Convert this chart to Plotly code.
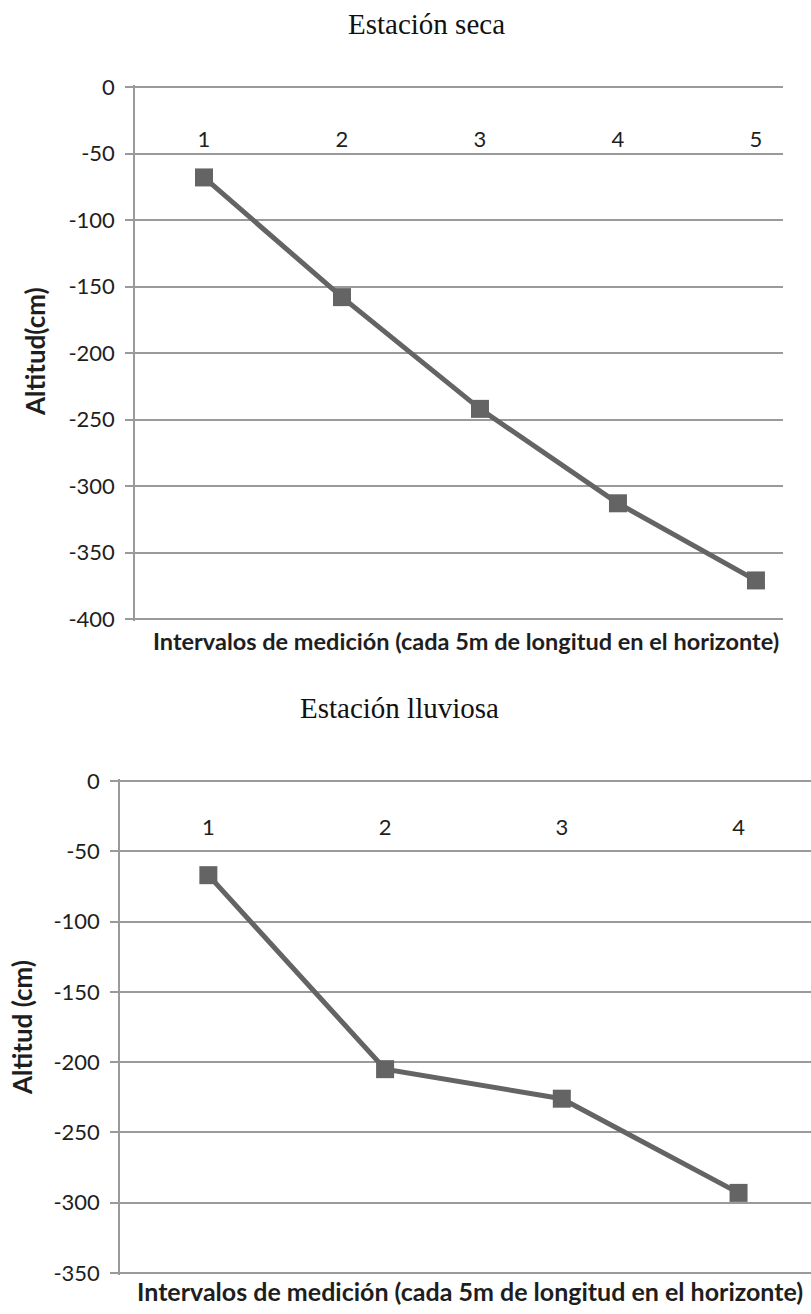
import plotly.graph_objects as go

# Measurement intervals (every 5 m along the horizon) and altitude readings in cm
dry_intervals = [1, 2, 3, 4, 5]
dry_altitude = [-68, -158, -242, -313, -371]

wet_intervals = [1, 2, 3, 4]
wet_altitude = [-67, -205, -226, -293]

dry_title = "Estación seca"
wet_title = "Estación lluviosa"
dry_ytitle = "Altitud(cm)"
wet_ytitle = "Altitud (cm)"
xtitle = "Intervalos de medición (cada 5m de longitud en el horizonte)"

dry_yticks = list(range(0, -401, -50))
wet_yticks = list(range(0, -351, -50))

W, H = 811, 1314
LINE = "#646464"
GRID = "#9a9a9a"
TEXT = "#1e1e1e"
SANS = "Lato, Open Sans, sans-serif"
TICKFONT = dict(family=SANS, size=22, color=TEXT)


def px_x(p):
    return p / W


def px_y(p):
    return 1 - p / H


fig = go.Figure()

fig.add_trace(go.Scatter(
    x=dry_intervals, y=dry_altitude, mode="lines+markers",
    line=dict(color=LINE, width=5),
    marker=dict(symbol="square", size=18, color=LINE),
    xaxis="x", yaxis="y", showlegend=False,
))
fig.add_trace(go.Scatter(
    x=wet_intervals, y=wet_altitude, mode="lines+markers",
    line=dict(color=LINE, width=5),
    marker=dict(symbol="square", size=18, color=LINE),
    xaxis="x2", yaxis="y2", showlegend=False,
))


def xaxis_cfg(domain, rng, vals, label_y):
    # category labels sit just under the zero line, inside the plot
    return dict(
        domain=domain, range=rng, anchor="free", position=px_y(label_y), side="bottom",
        tickvals=vals, ticktext=[str(v) for v in vals],
        ticks="", showgrid=False, zeroline=False, showline=False,
        tickfont=TICKFONT, fixedrange=True, automargin=False,
    )


def yaxis_cfg(domain, rng, vals, anchor):
    return dict(
        domain=domain, range=rng, anchor=anchor,
        tickvals=vals, ticktext=[str(v) for v in vals],
        ticks="outside", ticklen=8, tickcolor=GRID, tickwidth=1.5,
        showgrid=True, gridcolor=GRID, gridwidth=1.5,
        showline=True, linecolor=GRID, linewidth=1.5,
        zeroline=False, tickfont=TICKFONT, ticklabelstandoff=6,
        fixedrange=True, automargin=False,
    )


# the y ranges run one pixel past both end ticks so the edge gridlines stay drawn
fig.update_layout(
    width=W, height=H,
    margin=dict(l=0, r=0, t=0, b=0),
    paper_bgcolor="white", plot_bgcolor="white",
    xaxis=xaxis_cfg([px_x(135), px_x(783)], [0.5, 5.196], dry_intervals, 124),
    yaxis=yaxis_cfg([px_y(621), px_y(85)], [-401.5, 1.5], dry_yticks, "x"),
    xaxis2=xaxis_cfg([px_x(120), 1.0], [0.5, 4.41], wet_intervals, 812),
    yaxis2=yaxis_cfg([px_y(1275), px_y(779)], [-351.42, 1.42], wet_yticks, "x2"),
)

serif = dict(family="Liberation Serif, Times New Roman, serif", size=29, color="#111111")
annotations = [
    dict(text=dry_title, x=px_x(426), y=px_y(24), font=serif),
    dict(text=wet_title, x=px_x(399), y=px_y(708), font=serif),
    dict(text="<b>" + dry_ytitle + "</b>", x=px_x(35), y=px_y(352), textangle=-90,
         font=dict(family=SANS, size=26, color=TEXT)),
    dict(text="<b>" + wet_ytitle + "</b>", x=px_x(22), y=px_y(1028), textangle=-90,
         font=dict(family=SANS, size=26, color=TEXT)),
    dict(text="<b>" + xtitle + "</b>", x=px_x(466), y=px_y(641),
         font=dict(family=SANS, size=23.5, color=TEXT)),
    dict(text="<b>" + xtitle + "</b>", x=px_x(470), y=px_y(1291),
         font=dict(family=SANS, size=25, color=TEXT)),
]
for a in annotations:
    a.update(xref="paper", yref="paper", showarrow=False, xanchor="center", yanchor="middle")
fig.update_layout(annotations=annotations)

fig.write_html("out.html")
